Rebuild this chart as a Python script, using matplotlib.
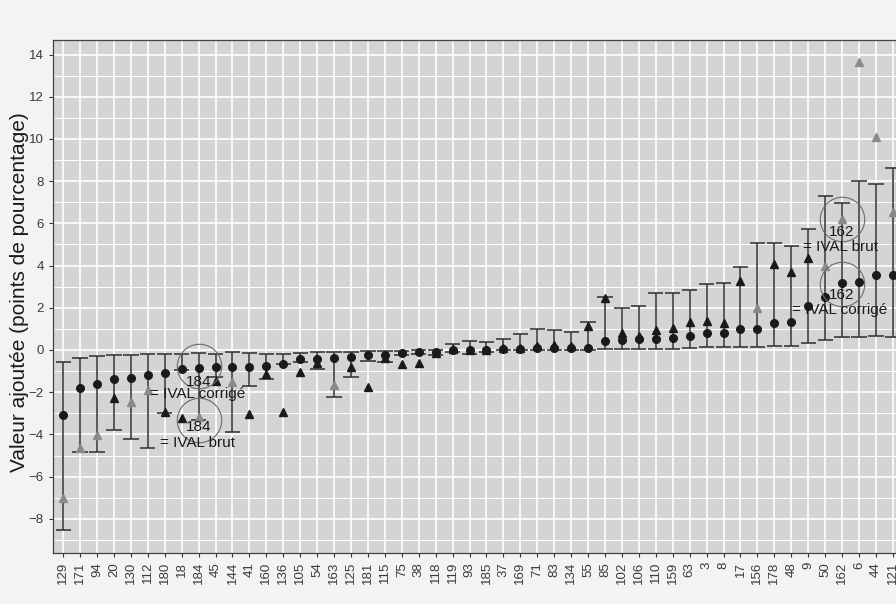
import numpy as np
import matplotlib
matplotlib.use("Agg")
import matplotlib.pyplot as plt

plt.rcParams['font.family'] = ['Liberation Sans', 'DejaVu Sans']

# categories (ordered by corrected value added)
cats = ["129", "171", "94", "20", "130", "112", "180", "18", "184", "45",
        "144", "41", "160", "136", "105", "54", "163", "125", "181", "115",
        "75", "38", "118", "119", "93", "185", "37", "169", "71", "83",
        "134", "55", "85", "102", "106", "110", "159", "63", "3", "8",
        "17", "156", "178", "48", "9", "50", "162", "6", "44", "121"]

# IVAL corrige (circles)
ival_corr = [-3.08, -1.82, -1.63, -1.39, -1.31, -1.18, -1.10, -0.92, -0.87, -0.82,
             -0.79, -0.79, -0.74, -0.65, -0.44, -0.41, -0.39, -0.32, -0.22, -0.22,
             -0.14, -0.10, -0.09, 0.0, 0.02, 0.02, 0.06, 0.06, 0.08, 0.09,
             0.10, 0.11, 0.41, 0.47, 0.51, 0.51, 0.58, 0.66, 0.82, 0.82,
             1.00, 1.00, 1.26, 1.34, 2.10, 2.53, 3.19, 3.24, 3.55, 3.55]

# IVAL brut (triangles)
ival_brut = [-7.03, -4.66, -4.01, -2.29, -2.45, -1.90, -2.92, -3.24, -3.16, -1.47,
             -1.50, -3.03, -1.16, -2.92, -1.06, -0.63, -1.66, -0.79, -1.74, -0.40,
             -0.66, -0.62, -0.16, 0.03, 0.0, 0.0, 0.11, 0.11, 0.19, 0.24,
             0.19, 1.15, 2.45, 0.79, 0.66, 0.95, 1.03, 1.34, 1.39, 1.30,
             3.27, 1.97, 4.06, 3.68, 4.34, 3.98, 6.21, 13.63, 10.11, 6.56]

# triangles drawn in grey
brut_grey = [0, 1, 2, 4, 5, 8, 10, 16, 41, 45, 46, 47, 48, 49]

# interval bounds
upper = [-0.58, -0.36, -0.28, -0.24, -0.22, -0.21, -0.20, -0.20, -0.16, -0.20,
         -0.11, -0.16, -0.17, -0.17, -0.14, -0.08, -0.08, -0.08, -0.03, -0.03,
         -0.03, 0.0, 0.02, 0.27, 0.44, 0.39, 0.54, 0.76, 1.01, 0.95,
         0.84, 1.33, 2.53, 1.97, 2.09, 2.69, 2.69, 2.84, 3.11, 3.19,
         3.95, 5.06, 5.09, 4.93, 5.72, 7.31, 6.98, 8.01, 7.85, 8.61]
lower = [-8.53, -4.82, -4.83, -3.79, -4.23, -4.64, -2.97, -0.95, -3.32, -1.30,
         -3.90, -1.71, -1.36, -0.68, -0.55, -0.92, -2.21, -1.30, -0.50, -0.55,
         -0.24, -0.20, -0.26, -0.08, -0.20, -0.08, 0.0, 0.0, 0.0, 0.0,
         0.0, 0.0, 0.03, 0.03, 0.05, 0.06, 0.06, 0.08, 0.13, 0.13,
         0.13, 0.16, 0.19, 0.21, 0.35, 0.47, 0.63, 0.60, 0.66, 0.63]

# highlighted schools: circle centre, label position, text position
hl_cat = ["184", "184", "162", "162"]
hl_y = [-0.76, -3.32, 6.21, 3.13]
hl_label_y = [-1.50, -3.66, 5.61, 2.59]
hl_text = ["= IVAL corrigé", "= IVAL brut", "= IVAL brut", "= IVAL corrigé"]
hl_text_x = [5.12, 5.71, 43.67, 43.06]
hl_text_y = [-2.08, -4.42, 4.87, 1.90]

x = np.arange(len(cats))
panel = "#d4d4d4"

fig = plt.figure(figsize=(8.96, 6.04), dpi=100, facecolor="#f3f3f3")
ax = fig.add_axes([53 / 896, 1 - 553 / 604, 1 - 53 / 896, 513 / 604])
ax.set_facecolor(panel)

# grid like ggplot
ax.set_xticks(x)
ax.set_yticks(np.arange(-8, 15, 2))
ax.set_yticks(np.arange(-9, 15, 2), minor=True)
ax.grid(True, which="major", color="white", linewidth=1.2)
ax.grid(True, which="minor", axis="y", color="white", linewidth=0.7)
ax.set_axisbelow(True)

# intervals
ax.vlines(x, lower, upper, color="#2e2e2e", linewidth=1.1, zorder=2)
ax.hlines(lower, x - 0.45, x + 0.45, color="#2e2e2e", linewidth=1.1, zorder=2)
ax.hlines(upper, x - 0.45, x + 0.45, color="#2e2e2e", linewidth=1.1, zorder=2)

# points
brut = np.array(ival_brut)
grey_mask = np.isin(x, brut_grey)
ax.plot(x[~grey_mask], brut[~grey_mask], "^", color="#1a1a1a", markersize=5.5, zorder=3)
ax.plot(x[grey_mask], brut[grey_mask], "^", color="#8a8a8a", markersize=5.5, zorder=3)
ax.plot(x, ival_corr, "o", color="#1a1a1a", markersize=5.5, zorder=4)

# annotations
for c, yc, yl, t, tx, ty in zip(hl_cat, hl_y, hl_label_y, hl_text, hl_text_x, hl_text_y):
    xi = cats.index(c)
    ax.plot(xi, yc, "o", markerfacecolor="none", markeredgecolor="#6a6a6a",
            markeredgewidth=0.8, markersize=32, zorder=5)
    ax.text(xi, yl, c, ha="center", va="center", fontsize=11, color="#1a1a1a", zorder=6)
    ax.text(tx, ty, t, ha="left", va="center", fontsize=11, color="#1a1a1a", zorder=6)

ax.set_xlim(-0.6, (896 - 63.3) / 16.93)
ax.set_ylim(-9.62, 14.69)
ax.set_xticklabels(cats, rotation=90, fontsize=9.5, color="#3a3a3a")
ax.tick_params(axis="y", labelsize=9.5, labelcolor="#3a3a3a")
ax.tick_params(which="major", length=3, color="#333333", width=0.8)
ax.tick_params(which="minor", length=0)
ax.set_ylabel("Valeur ajoutée (points de pourcentage)", fontsize=15, color="#1a1a1a")
ax.yaxis.set_label_coords(-24 / 843, 0.509)

for s in ["left", "bottom", "top"]:
    ax.spines[s].set_color("#444444")
    ax.spines[s].set_linewidth(0.9)
ax.spines["right"].set_visible(False)

fig.savefig("out.png", dpi=100, facecolor=fig.get_facecolor())
